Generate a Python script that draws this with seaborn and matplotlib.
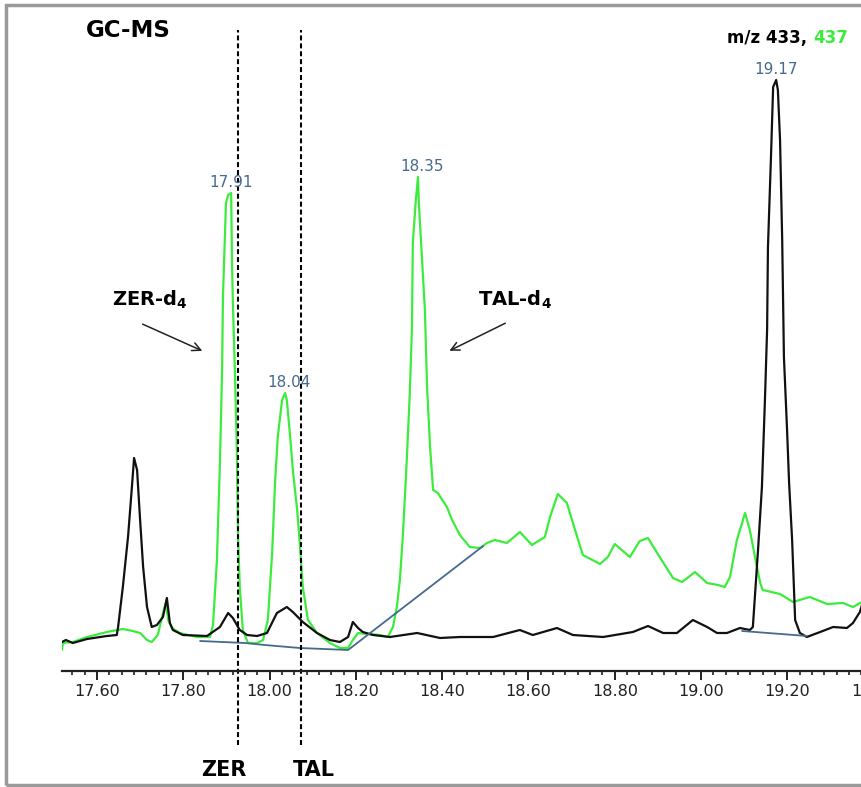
import numpy as np
import pandas as pd
import seaborn as sns
import matplotlib.pyplot as plt
from matplotlib.ticker import MultipleLocator, AutoMinorLocator, FormatStrFormatter
from matplotlib.patches import Rectangle

# --- chromatogram traces (time in min, abundance in arbitrary units)
black_time = [17.519, 17.528, 17.544, 17.577, 17.623, 17.646, 17.649, 17.660, 17.672, 17.681,
              17.686, 17.693, 17.700, 17.707, 17.716, 17.727, 17.739, 17.753, 17.762, 17.769,
              17.776, 17.799, 17.855, 17.885, 17.904, 17.915, 17.931, 17.948, 17.971, 17.994,
              18.017, 18.040, 18.054, 18.077, 18.110, 18.140, 18.163, 18.182, 18.193, 18.205,
              18.216, 18.240, 18.279, 18.342, 18.395, 18.441, 18.518, 18.580, 18.610, 18.666,
              18.703, 18.773, 18.842, 18.877, 18.912, 18.944, 18.981, 19.014, 19.037, 19.060,
              19.090, 19.113, 19.120, 19.132, 19.141, 19.148, 19.153, 19.155, 19.162, 19.167,
              19.174, 19.178, 19.183, 19.188, 19.192, 19.199, 19.204, 19.211, 19.218, 19.229,
              19.245, 19.276, 19.306, 19.338, 19.352, 19.368, 19.373]
black_abund = [8, 10, 7, 11, 14, 15, 23, 63, 113, 163,
               192, 180, 130, 83, 43, 23, 25, 33, 52, 27,
               20, 15, 14, 23, 37, 32, 20, 15, 14, 17,
               37, 43, 38, 28, 17, 10, 8, 13, 28, 22,
               18, 15, 13, 17, 12, 13, 13, 20, 15, 22,
               15, 13, 18, 24, 17, 17, 30, 23, 17, 17,
               22, 20, 23, 100, 163, 250, 320, 403, 493, 563,
               570, 560, 510, 410, 293, 223, 167, 110, 30, 17,
               13, 18, 23, 22, 27, 38, 45]

green_time = [17.519, 17.521, 17.544, 17.577, 17.623, 17.660, 17.683, 17.700, 17.716, 17.727,
              17.741, 17.753, 17.760, 17.765, 17.774, 17.792, 17.832, 17.862, 17.869, 17.878,
              17.885, 17.890, 17.892, 17.899, 17.904, 17.911, 17.913, 17.915, 17.920, 17.924,
              17.927, 17.931, 17.938, 17.950, 17.971, 17.985, 17.996, 18.006, 18.013, 18.019,
              18.029, 18.036, 18.040, 18.047, 18.054, 18.064, 18.070, 18.077, 18.089, 18.110,
              18.140, 18.163, 18.182, 18.193, 18.205, 18.226, 18.256, 18.274, 18.286, 18.295,
              18.302, 18.309, 18.318, 18.325, 18.330, 18.332, 18.339, 18.344, 18.346, 18.353,
              18.360, 18.365, 18.372, 18.379, 18.390, 18.411, 18.423, 18.441, 18.464, 18.488,
              18.504, 18.522, 18.550, 18.580, 18.608, 18.638, 18.650, 18.668, 18.689, 18.708,
              18.726, 18.766, 18.784, 18.800, 18.835, 18.858, 18.877, 18.904, 18.935, 18.956,
              18.986, 19.014, 19.039, 19.055, 19.067, 19.083, 19.102, 19.113, 19.125, 19.137,
              19.143, 19.183, 19.213, 19.252, 19.292, 19.329, 19.352, 19.373]
green_abund = [0, 7, 8, 13, 18, 21, 19, 17, 10, 8,
               15, 37, 48, 30, 22, 17, 13, 13, 25, 90,
               187, 280, 353, 447, 455, 457, 387, 347, 273, 203,
               113, 63, 20, 7, 7, 10, 30, 97, 170, 213,
               250, 257, 250, 217, 180, 140, 107, 63, 30, 17,
               7, 2, 2, 10, 17, 16, 15, 13, 23, 43,
               70, 115, 190, 257, 323, 407, 450, 473, 447, 393,
               340, 263, 203, 160, 157, 143, 130, 115, 103, 102,
               107, 110, 107, 118, 105, 113, 133, 156, 147, 120,
               95, 86, 93, 106, 93, 109, 112, 93, 72, 68,
               78, 67, 65, 63, 73, 110, 137, 120, 93, 67,
               60, 56, 48, 53, 46, 47, 43, 48]

# integration baselines
base1_time = [17.839, 17.943, 17.989, 18.070, 18.182, 18.495]
base1_abund = [9, 7, 5, 2, 0, 104]
base2_time = [19.095, 19.245]
base2_abund = [19, 14]

# labelled peaks
peak_labels = ['17.91', '18.04', '18.35', '19.17']
peak_trace = ['green', 'green', 'green', 'black']
peak_dx = [0, 3, 3, 0]

zer_time = 17.927
tal_time = 18.073

black_df = pd.DataFrame({'time': black_time, 'abund': black_abund})
green_df = pd.DataFrame({'time': green_time, 'abund': green_abund})

GREEN = '#3cec3c'
BLUE = '#46698f'

sns.set_style('white')
plt.rcParams['font.family'] = ['DejaVu Sans']
plt.rcParams['text.color'] = '#000000'

fig = plt.figure(figsize=(8.62, 7.87), dpi=100)
ax = fig.add_axes([62 / 862, 116 / 787, 838 / 862, 651 / 787])

sns.lineplot(data=green_df, x='time', y='abund', color=GREEN, lw=1.6,
             sort=False, estimator=None, ax=ax)
sns.lineplot(data=black_df, x='time', y='abund', color='#111111', lw=1.6,
             sort=False, estimator=None, ax=ax)
sns.lineplot(x=base1_time, y=base1_abund, color=BLUE, lw=1.3, estimator=None, ax=ax)
sns.lineplot(x=base2_time, y=base2_abund, color=BLUE, lw=1.3, estimator=None, ax=ax)

ax.set_xlim(17.519, 19.461)
ax.set_ylim(-21, 630)
ax.set_xlabel('')
ax.set_ylabel('')
ax.set_yticks([])
for side in ['left', 'top', 'right']:
    ax.spines[side].set_visible(False)
ax.spines['bottom'].set_linewidth(1.6)
ax.spines['bottom'].set_color('#222222')
ax.xaxis.set_major_locator(MultipleLocator(0.2))
ax.xaxis.set_major_formatter(FormatStrFormatter('%.2f'))
ax.xaxis.set_minor_locator(AutoMinorLocator(7))
ax.tick_params(axis='x', which='major', direction='out', length=6.5, width=1.4,
               labelsize=11.5, pad=3, colors='#222222', bottom=True)
ax.tick_params(axis='x', which='minor', direction='out', length=3, width=1.2,
               colors='#222222', bottom=True)

# peak apex labels
traces = {'green': green_df, 'black': black_df}
for lab, tr, dx in zip(peak_labels, peak_trace, peak_dx):
    d = traces[tr]
    win = d[(d['time'] > float(lab) - 0.03) & (d['time'] < float(lab) + 0.03)]
    top = win.loc[win['abund'].idxmax()]
    ax.annotate(lab, xy=(top['time'], top['abund']), xytext=(dx, 2),
                textcoords='offset points', ha='center', va='bottom',
                fontsize=11, color=BLUE)

# vertical marker lines for the analytes
for t in [zer_time, tal_time]:
    ax.axvline(t, ymin=-0.114, ymax=0.985, color='#000000', lw=1.5,
               ls=(0, (2.4, 1.4)), clip_on=False)

ax.text(17.894, -120, 'ZER', ha='center', va='center', fontsize=15, fontweight='bold')
ax.text(18.103, -120, 'TAL', ha='center', va='center', fontsize=15, fontweight='bold')

ax.text(17.672, 620, 'GC-MS', ha='center', va='center', fontsize=16.5, fontweight='bold')
g = ax.text(19.340, 612, '437', ha='right', va='center', fontsize=12,
            fontweight='bold', color=GREEN)
ax.annotate('m/z 433, ', xy=(0, 0.5), xycoords=g, ha='right', va='center',
            fontsize=12, fontweight='bold', color='#000000')

ax.text(17.723, 350, r'ZER-d$_{\mathbf{4}}$', ha='center', va='center',
        fontsize=14, fontweight='bold')
ax.text(18.569, 350, r'TAL-d$_{\mathbf{4}}$', ha='center', va='center',
        fontsize=14, fontweight='bold')
arrow = dict(arrowstyle='->,head_length=0.6,head_width=0.3', color='#222222', lw=1.1)
ax.annotate('', xy=(17.850, 298), xytext=(17.700, 327), arrowprops=arrow)
ax.annotate('', xy=(18.411, 298), xytext=(18.552, 328), arrowprops=arrow)

# grey frame around the figure
fig.patches.append(Rectangle((6 / 862, 2 / 787), 1.0, 780 / 787, transform=fig.transFigure,
                             fill=False, edgecolor='#9a9a9a', lw=2.5))

fig.savefig('out.png', dpi=100)
